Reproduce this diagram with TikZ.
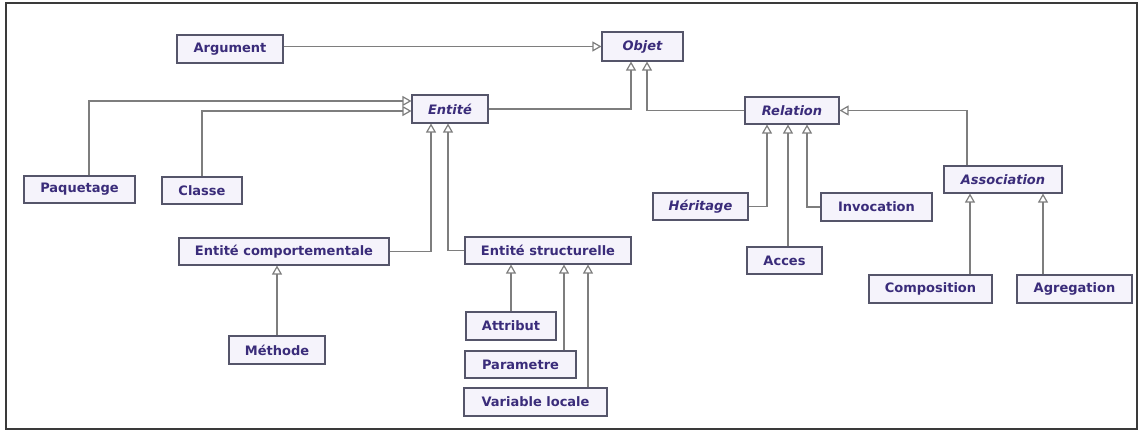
\documentclass[tikz,border=0pt]{standalone}
\usepackage{fontspec}
\setmainfont{DejaVu Sans}
\usetikzlibrary{arrows.meta}
\definecolor{clsfill}{HTML}{F5F3FB}
\definecolor{clsdraw}{HTML}{55556A}
\definecolor{clstext}{HTML}{3A2C7A}
\definecolor{linkgray}{HTML}{7E7E7E}
\definecolor{framegray}{HTML}{3A3A3A}
\begin{document}
\begin{tikzpicture}[x=1pt,y=-1pt,
  cls/.style={draw=clsdraw, fill=clsfill, line width=1.1pt, inner sep=0pt,
    text=clstext, font=\fontsize{13}{15}\selectfont\bfseries},
  abstract/.style={cls, font=\fontsize{13}{15}\selectfont\bfseries\itshape},
  gen/.style={draw=linkgray, line width=1.2pt,
    -{Triangle[length=9pt,width=10pt,fill=white]}}]
\useasboundingbox (0,0) rectangle (1141,431);
\draw[framegray, line width=1.5pt] (6,3) rectangle (1137,429);

% classes
\node[cls, minimum width=106pt, minimum height=28pt] (arg) at (230,49) {Argument};
\node[abstract, minimum width=81pt, minimum height=29pt] (obj) at (642.5,46.5) {Objet};
\node[abstract, minimum width=76pt, minimum height=28pt] (ent) at (450,109) {Entité};
\node[abstract, minimum width=94pt, minimum height=27pt] (rel) at (792,110.5) {Relation};
\node[cls, minimum width=111pt, minimum height=27pt] (paq) at (79.5,189.5) {Paquetage};
\node[cls, minimum width=80pt, minimum height=27pt] (cla) at (202,190.5) {Classe};
\node[abstract, minimum width=118pt, minimum height=27pt] (asc) at (1003,179.5) {Association};
\node[abstract, minimum width=95pt, minimum height=27pt] (her) at (700.5,206.5) {Héritage};
\node[cls, minimum width=111pt, minimum height=28pt] (inv) at (876.5,207) {Invocation};
\node[cls, minimum width=210pt, minimum height=27pt] (ec) at (284,251.5) {Entité comportementale};
\node[cls, minimum width=166pt, minimum height=27pt] (es) at (548,250.5) {Entité structurelle};
\node[cls, minimum width=75pt, minimum height=27pt] (acc) at (784.5,260.5) {Acces};
\node[cls, minimum width=123pt, minimum height=28pt] (com) at (930.5,289) {Composition};
\node[cls, minimum width=115pt, minimum height=28pt] (agr) at (1074.5,289) {Agregation};
\node[cls, minimum width=90pt, minimum height=28pt] (att) at (511,326) {Attribut};
\node[cls, minimum width=96pt, minimum height=28pt] (met) at (277,350) {Méthode};
\node[cls, minimum width=111pt, minimum height=27pt] (par) at (520.5,364.5) {Parametre};
\node[cls, minimum width=143pt, minimum height=28pt] (var) at (535.5,402) {Variable locale};

% generalisations
\draw[gen] (arg.east |- obj.west) -- (obj.west);
\draw[gen] ([xshift=9.5pt]paq.north) |- ([yshift=8pt]ent.west);
\draw[gen] (cla.north) |- ([yshift=-2pt]ent.west);
\draw[gen] (ent.east) -| ([xshift=-11.5pt]obj.south);
\draw[gen] (rel.west) -| ([xshift=4.5pt]obj.south);
\draw[gen] (ec.east) -| ([xshift=-19pt]ent.south);
\draw[gen] (es.west) -| ([xshift=-2pt]ent.south);
\draw[gen] (met.north) -- (met.north |- ec.south);
\draw[gen] (att.north) -- (att.north |- es.south);
\draw[gen] ([xshift=43.5pt]par.north) -- ([xshift=43.5pt]par.north |- es.south);
\draw[gen] ([xshift=52.5pt]var.north) -- ([xshift=52.5pt]var.north |- es.south);
\draw[gen] (her.east) -| ([xshift=-25pt]rel.south);
\draw[gen] ([xshift=3.5pt]acc.north) -- ([xshift=3.5pt]acc.north |- rel.south);
\draw[gen] (inv.west) -| ([xshift=15pt]rel.south);
\draw[gen] ([xshift=-36pt]asc.north) |- (rel.east);
\draw[gen] ([xshift=39.5pt]com.north) -- ([xshift=39.5pt]com.north |- asc.south);
\draw[gen] ([xshift=-31.5pt]agr.north) -- ([xshift=-31.5pt]agr.north |- asc.south);
\end{tikzpicture}
\end{document}
